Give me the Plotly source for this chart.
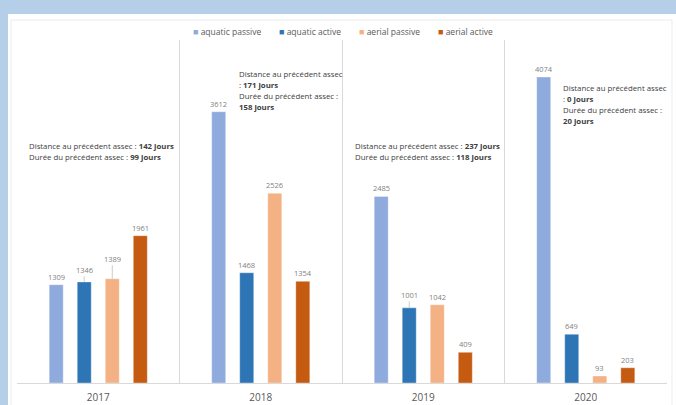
import plotly.graph_objects as go

years = ["2017", "2018", "2019", "2020"]
series_names = ["aquatic passive", "aquatic active", "aerial passive", "aerial active"]
aquatic_passive = [1309, 3612, 2485, 4074]
aquatic_active = [1346, 1468, 1001, 649]
aerial_passive = [1389, 2526, 1042, 93]
aerial_active = [1961, 1354, 409, 203]
distance_days = [142, 171, 237, 0]
duration_days = [99, 158, 118, 20]

series_values = [aquatic_passive, aquatic_active, aerial_passive, aerial_active]
colors = ["#8faadc", "#2e75b6", "#f4b183", "#c55a11"]

W, H = 676, 405
L, R, T, B = 17, 9, 40, 22
PW, PH = W - L - R, H - T - B

def px(xp):
    return (xp - L) / PW

def py(yp):
    return (H - B - yp) / PH

fig = go.Figure()
for name, vals, c in zip(series_names, series_values, colors):
    fig.add_trace(go.Bar(x=years, y=vals, name=name, showlegend=False,
                         marker=dict(color=c, line=dict(color="rgba(255,255,255,0.6)", width=0.6))))

# value labels
slot = PW / len(years) * (1 - 0.31) / 4
offsets = [(-1.5 + i) * slot for i in range(4)]
leader = {(0, 1): -12, (0, 2): -20, (2, 1): -13}
label_font = dict(size=7.5, color="#7f7f7f", family="Open Sans")
annotations = []
for si, vals in enumerate(series_values):
    for yi, v in enumerate(vals):
        key = (yi, si)
        if key in leader:
            annotations.append(dict(x=yi, y=v, xref="x", yref="y", text=str(v),
                                    showarrow=True, arrowhead=0, arrowwidth=0.8, arrowcolor="#bfbfbf",
                                    ax=0, ay=leader[key], xshift=offsets[si], standoff=0,
                                    font=label_font))
        else:
            annotations.append(dict(x=yi, y=v, xref="x", yref="y", text=str(v),
                                    showarrow=False, yanchor="bottom", xshift=offsets[si], yshift=1,
                                    font=label_font))

def info_lines(d, u, split):
    if split:
        return ["Distance au précédent assec", ": <b>%d jours</b>" % d,
                "Durée du précédent assec :", "<b>%d jours</b>" % u]
    return ["Distance au précédent assec : <b>%d jours</b>" % d,
            "Durée du précédent assec : <b>%d jours</b>" % u]

info_pos = [(27, 146, False), (237, 74, True), (353, 145.5, False), (561, 88, True)]
for i, (xp, yp, split) in enumerate(info_pos):
    for k, line in enumerate(info_lines(distance_days[i], duration_days[i], split)):
        annotations.append(dict(x=px(xp), y=py(yp + 11 * k), xref="paper", yref="paper",
                                xanchor="left", yanchor="middle", align="left", showarrow=False,
                                text=line, font=dict(size=7.8, color="#404040", family="Open Sans")))

# legend (compact, like the original)
legend_x = [191, 277, 357, 436]
for name, c, xp in zip(series_names, colors, legend_x):
    annotations.append(dict(x=px(xp), y=py(31), xref="paper", yref="paper", xanchor="left", yanchor="middle",
                            showarrow=False,
                            text="<span style='color:%s;font-size:9px'>■</span> %s" % (c, name),
                            font=dict(size=8.5, color="#595959", family="Open Sans")))

shapes = [
    dict(type="rect", xref="paper", yref="paper", x0=px(8), x1=px(690), y0=py(420), y1=py(14),
         fillcolor="white", line=dict(width=0), layer="below"),
    dict(type="rect", xref="paper", yref="paper", x0=px(11), x1=px(672), y0=py(420), y1=py(20),
         fillcolor="rgba(0,0,0,0)", line=dict(width=0.8, color="#e6e6e6"), layer="below"),
]

fig.update_layout(
    width=W, height=H,
    margin=dict(l=L, r=R, t=T, b=B, autoexpand=False),
    paper_bgcolor="#b6cfe8",
    plot_bgcolor="white",
    barmode="group", bargap=0.31, bargroupgap=0.5,
    showlegend=False,
    xaxis=dict(type="category", range=[-0.5, 3.5], tickson="boundaries", showgrid=True,
               gridcolor="#d9d9d9", gridwidth=1, automargin=False,
               showline=True, linecolor="#d9d9d9", ticks="", ticklen=0, tickangle=0,
               ticklabelstandoff=5,
               tickfont=dict(size=10, color="#595959", family="Open Sans")),
    yaxis=dict(range=[0, 4514 * (H - T - B) / 339], visible=False, showgrid=False, zeroline=False),
    annotations=annotations,
    shapes=shapes,
)

fig.write_html("out.html", post_script="document.body.style.margin='0';",
               config={"displayModeBar": False})
